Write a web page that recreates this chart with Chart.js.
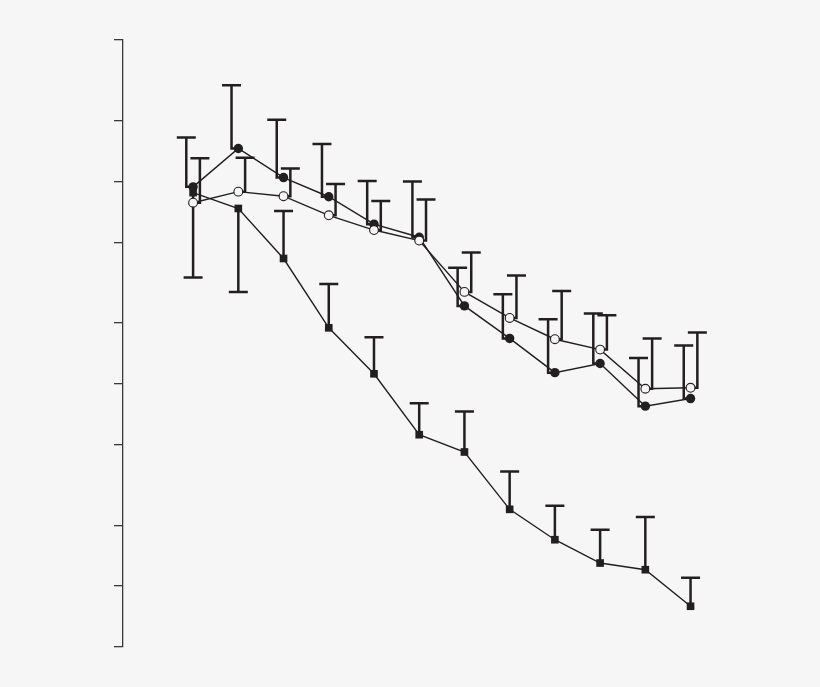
<!DOCTYPE html>
<html>
<head>
<meta charset="utf-8">
<script src="https://cdn.jsdelivr.net/npm/chart.js@4.4.1/dist/chart.umd.min.js"></script>
<style>
  html, body { margin: 0; padding: 0; background: #f6f6f6; }
  #wrap { width: 820px; height: 687px; }
</style>
</head>
<body>
<div id="wrap"><canvas id="chart" width="820" height="687"></canvas></div>
<script>
// Sessions along x (no axis drawn in the original)
const sessions = [1, 2, 3, 4, 5, 6, 7, 8, 9, 10, 11, 12];

// Filled circles: means and top of error bars
const filledMean  = [188, 291, 209, 168, 123, 106, 48.5, 33.5, 22.7, 25.2, 15.5, 16.9];
const filledUpper = [330, 597, 403, 306, 201, 200, 74.8, 55.4, 41.7, 44.5, 26.8, 30.9];

// Open circles: means and top of error bars
const openMean  = [157, 178, 169, 136, 115, 102, 56.9, 42.3, 33.2, 29.5, 18.9, 19.1];
const openUpper = [260, 262, 232, 194, 160, 163, 89.1, 68.6, 57.5, 43.6, 33.5, 35.8];

// Filled squares: means and error bar ends (first two point down)
const squareMean = [176, 147, 83.2, 37.8, 22.4, 11.2, 9.2, 4.79, 3.39, 2.60, 2.41, 1.59];
const squareEnd  = [67, 56.9, 143, 62.3, 34.0, 16.0, 14.6, 7.36, 4.99, 3.80, 4.39, 2.20];

// Log axis tick positions (labels not shown)
const yTicks = [1, 2, 4, 10, 20, 40, 100, 200, 400, 1000];

const ink = '#231f20';
const capHalf = 9.5;

function points(values) {
    return sessions.map((s, i) => ({ x: s, y: values[i] }));
}

// Draws the T-shaped error bars, shifted sideways per series
const errorBarPlugin = {
    id: 'errorBars',
    beforeDatasetsDraw(chart) {
        const { ctx, scales: { x, y } } = chart;
        ctx.save();
        ctx.strokeStyle = ink;
        ctx.lineWidth = 2.5;
        chart.data.datasets.forEach(ds => {
            ds.data.forEach((p, i) => {
                const px = x.getPixelForValue(p.x);
                const sx = px + ds.barShift;
                const py = y.getPixelForValue(p.y);
                const ey = y.getPixelForValue(ds.errorEnds[i]);
                ctx.beginPath();
                ctx.moveTo(px, py);
                ctx.lineTo(sx, py);
                ctx.lineTo(sx, ey);
                ctx.moveTo(sx - capHalf, ey);
                ctx.lineTo(sx + capHalf, ey);
                ctx.stroke();
            });
        });
        ctx.restore();
    }
};

const ctx = document.getElementById('chart').getContext('2d');
const chart = new Chart(ctx, {
    type: 'line',
    data: {
        datasets: [
            {
                label: 'squares', data: points(squareMean), errorEnds: squareEnd, barShift: 0,
                borderColor: ink, borderWidth: 1.4, pointStyle: 'rect', pointRadius: 5.4,
                pointBackgroundColor: ink, pointBorderColor: ink, pointBorderWidth: 0
            },
            {
                label: 'open', data: points(openMean), errorEnds: openUpper, barShift: 6.8,
                borderColor: ink, borderWidth: 1.4, pointStyle: 'circle', pointRadius: 4.4,
                pointBackgroundColor: '#f6f6f6', pointBorderColor: ink, pointBorderWidth: 1.1
            },
            {
                label: 'filled', data: points(filledMean), errorEnds: filledUpper, barShift: -6.8,
                borderColor: ink, borderWidth: 1.4, pointStyle: 'circle', pointRadius: 4.7,
                pointBackgroundColor: ink, pointBorderColor: ink, pointBorderWidth: 0
            }
        ]
    },
    options: {
        responsive: false,
        animation: false,
        layout: { padding: { left: 114, top: 40, right: 39, bottom: 40 } },
        plugins: { legend: { display: false }, tooltip: { enabled: false } },
        scales: {
            x: { type: 'linear', min: -0.55, max: 14, display: false },
            y: {
                type: 'logarithmic', min: 1, max: 1000,
                afterBuildTicks: axis => { axis.ticks = yTicks.map(v => ({ value: v })); },
                ticks: { display: false },
                grid: { drawOnChartArea: false, drawTicks: true, tickLength: 9, color: '#3a3a3a', lineWidth: 1.3 },
                border: { display: true, color: '#3a3a3a', width: 1.3 }
            }
        }
    },
    plugins: [errorBarPlugin]
});
</script>
</body>
</html>
